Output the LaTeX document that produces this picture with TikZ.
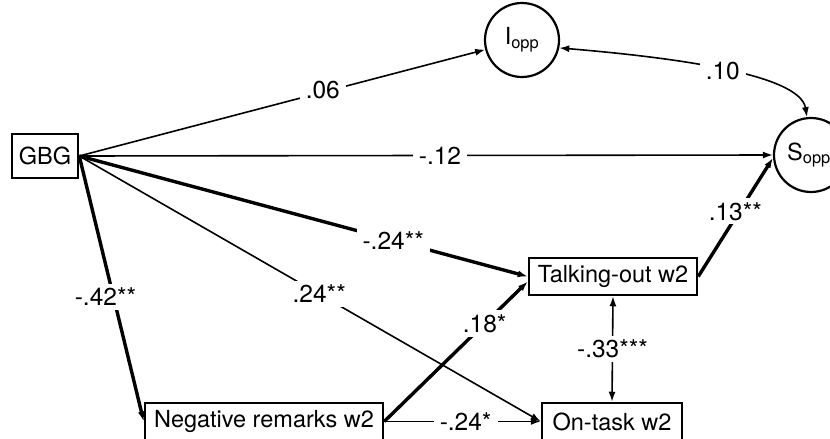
\documentclass[tikz,border=0pt]{standalone}
\usepackage{fontspec}
\setmainfont{TeX Gyre Heros}
\usetikzlibrary{arrows.meta}
\begin{document}
\begin{tikzpicture}[x=1pt,y=1pt,
  >={Latex[length=10pt,width=7pt]},
  box/.style={draw, line width=2.5pt, fill=white, minimum height=37pt, inner sep=0pt, font=\fontsize{23.5}{27}\selectfont},
  var/.style={draw, circle, line width=2.2pt, fill=white, minimum size=74pt, inner sep=0pt, font=\fontsize{23.5}{27}\selectfont},
  thinpath/.style={line width=1.6pt, ->},
  thickpath/.style={line width=3.4pt, ->},
  lbl/.style={fill=white, inner xsep=6pt, inner ysep=4pt, font=\fontsize{24.5}{28}\selectfont},
]
\useasboundingbox (0,0) rectangle (830,-439);
\node[box, minimum width=66pt, minimum height=44pt] (GBG) at (45,-156) {GBG};
\node[var] (Iopp) at (522,-40) {I\textsubscript{opp}};
\node[var] (Sopp) at (811,-155) {\hspace*{-4pt}S\textsubscript{opp}};
\node[box, minimum width=168pt] (Tout) at (613,-276.5) {Talking-out w2};
\node[box, minimum width=238pt] (NegR) at (264,-421.5) {Negative remarks w2};
\node[box, minimum width=140pt] (OnT) at (612,-421.5) {On-task w2};

\draw[thinpath] (GBG.east) -- node[lbl,pos=0.6,yshift=2pt]{.06} (Iopp);
\draw[thinpath] (GBG.east) -- node[lbl,pos=0.52]{-.12} (Sopp.west);
\draw[thickpath] (GBG.east) -- node[lbl,pos=0.7]{-.24**} (Tout.west);
\draw[thinpath] (GBG.east) -- node[lbl,pos=0.52]{.24**} (OnT.west);
\draw[thickpath] (GBG.east) -- node[lbl,pos=0.53,xshift=-8pt]{-.42**} (NegR.west);
\draw[thickpath] (NegR.east) -- node[lbl,pos=0.7]{.18*} ([yshift=-5pt]Tout.west);
\draw[thinpath] (NegR.east) -- node[lbl,pos=0.52]{-.24*} (OnT.west);
\draw[thinpath,<->] (Tout.south) -- node[lbl]{-.33***} (OnT.north);
\draw[thickpath] (Tout.east) -- node[lbl,pos=0.55,xshift=-4pt]{.13**} ([yshift=-3pt]Sopp.west);
\draw[thinpath,<->] (Iopp.-12) .. controls (680,-58) and (800,-75) .. node[lbl,pos=0.5,xshift=-3pt]{.10} (Sopp.96);
\end{tikzpicture}
\end{document}
